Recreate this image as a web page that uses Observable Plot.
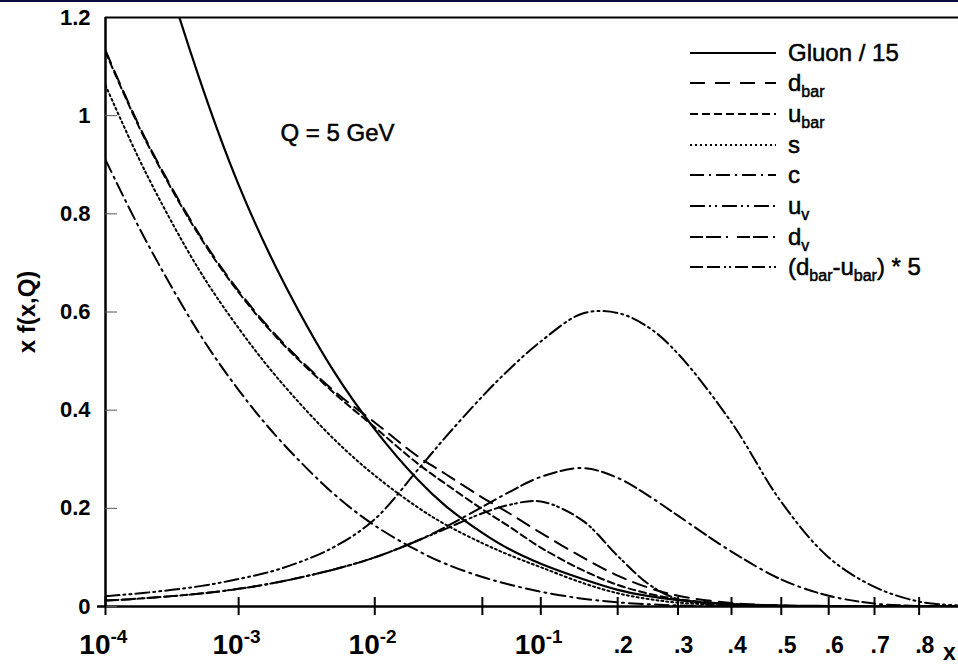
<!DOCTYPE html>
<html>
<head>
<meta charset="utf-8">
<script src="https://cdn.jsdelivr.net/npm/d3@7"></script>
<script src="https://cdn.jsdelivr.net/npm/@observablehq/plot@0.6"></script>
<style>
  html, body { margin: 0; padding: 0; background: #fff; }
  #wrap { position: relative; width: 958px; height: 665px; overflow: hidden; }
  #band { position: absolute; left: 0; top: 0; width: 958px; height: 2px; background: #0a0a3c; z-index: 2; }
  #wrap svg { position: absolute; left: 0; top: 0; }
</style>
</head>
<body>
<div id="wrap"><div id="band"></div></div>
<script>
// Momentum fractions at which the distributions are tabulated
const xGrid = [0.0001, 0.0002, 0.0005, 0.001, 0.002, 0.005, 0.01, 0.02, 0.03, 0.05, 0.07,
               0.1, 0.15, 0.2, 0.25, 0.3, 0.4, 0.5, 0.6, 0.7, 0.8, 0.89];

// x f(x,Q) at Q = 5 GeV for each parton
const gluon15 = [1.74, 1.43, 1.081, 0.859, 0.679, 0.482, 0.361, 0.257, 0.205, 0.15, 0.117,
                 0.087, 0.056, 0.034, 0.021, 0.013, 0.005, 0.002, 0.001, 0.0004, 0.0001, 0];
const dbar    = [1.133, 0.953, 0.761, 0.643, 0.546, 0.441, 0.375, 0.305, 0.27, 0.222, 0.19,
                 0.15, 0.1, 0.063, 0.038, 0.022, 0.007, 0.002, 0.0005, 0.0001, 0, 0];
const ubar    = [1.13, 0.95, 0.758, 0.64, 0.543, 0.437, 0.365, 0.29, 0.25, 0.198, 0.163,
                 0.12, 0.074, 0.044, 0.026, 0.015, 0.005, 0.0015, 0.0004, 0.0001, 0, 0];
const sQuark  = [1.062, 0.885, 0.688, 0.567, 0.462, 0.343, 0.267, 0.201, 0.167, 0.129, 0.105,
                 0.08, 0.048, 0.027, 0.015, 0.008, 0.0025, 0.0007, 0.0002, 0, 0, 0];
const cQuark  = [0.91, 0.747, 0.559, 0.441, 0.341, 0.231, 0.165, 0.113, 0.087, 0.06, 0.045,
                 0.03, 0.016, 0.0085, 0.0045, 0.0022, 0.0005, 0.0001, 0, 0, 0, 0];
const uValence = [0.021, 0.028, 0.041, 0.056, 0.076, 0.12, 0.178, 0.28, 0.345, 0.428, 0.483,
                  0.54, 0.597, 0.598, 0.568, 0.515, 0.375, 0.213, 0.1, 0.04, 0.01, 0.002];
const dValence = [0.012, 0.017, 0.026, 0.036, 0.05, 0.075, 0.1, 0.135, 0.162, 0.203, 0.233,
                  0.264, 0.282, 0.262, 0.225, 0.185, 0.112, 0.055, 0.022, 0.006, 0.001, 0];
const dbarMinusUbar5 = [0.012, 0.017, 0.026, 0.036, 0.05, 0.075, 0.1, 0.135, 0.158, 0.19, 0.207,
                        0.214, 0.175, 0.103, 0.045, 0.015, 0.002, 0, 0, 0, 0, 0];

// Axis ticks
const yTicks = [0, 0.2, 0.4, 0.6, 0.8, 1.0];
const yLabelValues = [0, 0.2, 0.4, 0.6, 0.8, 1.0, 1.2];
const yTickLabels = ["0", "0.2", "0.4", "0.6", "0.8", "1", "1.2"];
const powTicks = [0.0001, 0.001, 0.01, 0.1];
const powExponents = ["-4", "-3", "-2", "-1"];
const decTicks = [0.2, 0.3, 0.4, 0.5, 0.6, 0.7, 0.8];
const decLabels = [".2", ".3", ".4", ".5", ".6", ".7", ".8"];
const minorTicks = [0.05];

// Horizontal axis: logarithmic at small x, close to linear at large x
const fx = x => Math.log(x) + 6.4 * x;
const xMin = 0.0001, xMax = 0.89;

const series = [
  {label: "gluon", values: gluon15, dash: null, width: 2.2},
  {label: "dbar", values: dbar, dash: "14,8", width: 2},
  {label: "ubar", values: ubar, dash: "7,4", width: 2},
  {label: "s", values: sQuark, dash: "2,3", width: 2},
  {label: "c", values: cQuark, dash: "14,5,2,5", width: 2},
  {label: "uv", values: uValence, dash: "14,4,2,4,2,4", width: 2},
  {label: "dv", values: dValence, dash: "13,4,13,5,2,5", width: 2},
  {label: "dbar-ubar", values: dbarMinusUbar5, dash: "12,4,12,4,2,3,2,4", width: 2}
];

const font = "Liberation Sans, Arial, Helvetica, sans-serif";
const W = 958, H = 665, mL = 105, mT = 17, mB = 59;
const frameW = W - mL, frameH = H - mT - mB;

const curveMarks = series.map(s => Plot.line(
  xGrid.map((x, i) => ({x, y: s.values[i]})),
  {x: d => fx(d.x), y: "y", curve: "catmull-rom", stroke: "#000",
   strokeWidth: s.width, strokeDasharray: s.dash, clip: true}
));

const chart = Plot.plot({
  width: W, height: H,
  marginLeft: mL, marginRight: 0, marginTop: mT, marginBottom: mB,
  style: {fontFamily: font, background: "transparent", color: "#000", overflow: "visible"},
  x: {type: "linear", domain: [fx(xMin), fx(xMax)], axis: null},
  y: {domain: [0, 1.2], axis: null},
  marks: [
    ...curveMarks,
    // frame: top line, left axis, bottom axis
    Plot.ruleY([1.2], {stroke: "#000", strokeWidth: 2}),
    Plot.ruleX([xMin], {x: fx, stroke: "#000", strokeWidth: 2.5}),
    Plot.ruleY([0], {stroke: "#000", strokeWidth: 2.5, insetLeft: -8}),
    // y ticks (inward) and labels
    Plot.tickY(yTicks, {y: d => d, stroke: "#555", strokeWidth: 1, insetRight: frameW - 12}),
    Plot.text(yLabelValues, {y: d => d, text: (d, i) => yTickLabels[i], frameAnchor: "left",
      dx: -15, textAnchor: "end", lineAnchor: "middle", fontSize: 22, fontWeight: "bold"}),
    // x ticks crossing the axis
    Plot.tickX([...powTicks, ...minorTicks, ...decTicks], {x: fx, stroke: "#000", strokeWidth: 2,
      insetTop: frameH - 9, insetBottom: -9}),
    Plot.text(powTicks, {x: fx, text: () => "10", frameAnchor: "bottom", textAnchor: "end",
      lineAnchor: "bottom", dx: 5, dy: 47, fontSize: 28, fontWeight: "bold"}),
    Plot.text(powTicks, {x: fx, text: (d, i) => powExponents[i], frameAnchor: "bottom",
      textAnchor: "start", lineAnchor: "bottom", dx: 5, dy: 36, fontSize: 19, fontWeight: "bold"}),
    Plot.text(decTicks, {x: fx, text: (d, i) => decLabels[i], frameAnchor: "bottom",
      textAnchor: "start", lineAnchor: "bottom", dx: -4, dy: 46, fontSize: 23, fontWeight: "bold"}),
    // axis titles and annotation
    Plot.text(["x"], {frameAnchor: "bottom-right", textAnchor: "middle", lineAnchor: "bottom",
      dx: -9, dy: 53, fontSize: 23, fontWeight: "bold"}),
    Plot.text(["x f(x,Q)"], {frameAnchor: "left", rotate: -90, textAnchor: "middle",
      lineAnchor: "middle", dx: -78, fontSize: 24, fontWeight: "bold"}),
    Plot.text(["Q = 5 GeV"], {frameAnchor: "top-left", textAnchor: "start", lineAnchor: "bottom",
      dx: 280 - mL, dy: 140 - mT, fontSize: 24, fill: "#000", stroke: "#000", strokeWidth: 0.5})
  ]
});
document.getElementById("wrap").appendChild(chart);

// Legend: line samples and labels with subscripts
const legendItems = [
  {dash: null, parts: [["Gluon / 15", 0]]},
  {dash: "15,10", parts: [["d", 0], ["bar", 1]]},
  {dash: "8,4", parts: [["u", 0], ["bar", 1]]},
  {dash: "2,3", parts: [["s", 0]]},
  {dash: "14,5,2,5", parts: [["c", 0]]},
  {dash: "15,4,2,4,2,5", parts: [["u", 0], ["v", 1]]},
  {dash: "13,3,15,5,2,9", parts: [["d", 0], ["v", 1]]},
  {dash: "13,4,13,4,2,3,2,4", parts: [["(d", 0], ["bar", 1], ["-u", 0], ["bar", 1], [") * 5", 0]]}
];
const legendRowY = [53, 83, 114, 145, 175, 206, 237, 267];
const leg = d3.select("#wrap").append("svg")
  .attr("width", W).attr("height", H)
  .style("font-family", font);
legendItems.forEach((item, i) => {
  const y = legendRowY[i];
  leg.append("line").attr("x1", 690).attr("x2", 776).attr("y1", y).attr("y2", y)
    .attr("stroke", "#000").attr("stroke-width", 2)
    .attr("stroke-dasharray", item.dash);
  const t = leg.append("text").attr("x", 788).attr("y", y + 8).attr("font-size", 24)
    .attr("fill", "#000").attr("stroke", "#000").attr("stroke-width", 0.5);
  let shifted = 0;
  item.parts.forEach(([str, sub]) => {
    const off = sub ? 6 : 0;
    t.append("tspan").attr("dy", off - shifted).attr("font-size", sub ? 16 : 24).text(str);
    shifted = off;
  });
});
</script>
</body>
</html>
